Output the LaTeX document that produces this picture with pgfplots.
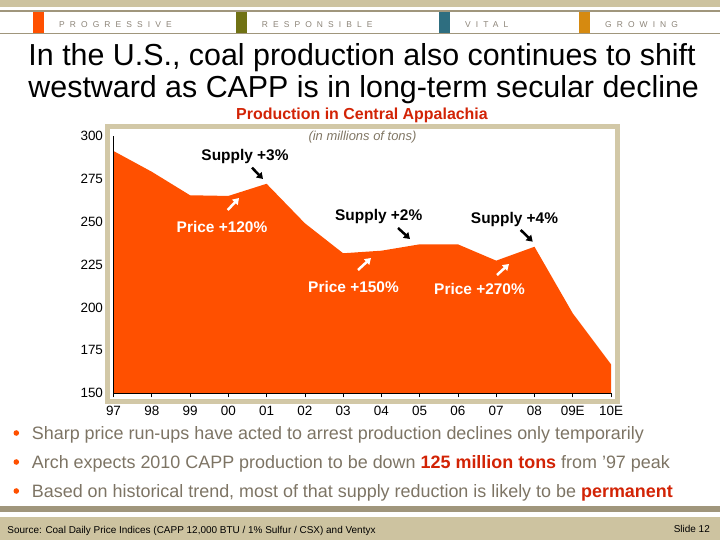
\documentclass[border=0pt]{standalone}
\usepackage{pgfplots}
\pgfplotsset{compat=1.18}
\usepackage{fontspec}
\setmainfont{Liberation Sans}
\newfontfamily\spacedfont[LetterSpace=60]{Liberation Sans}
\usetikzlibrary{arrows.meta}

\definecolor{bandtan}{RGB}{205,195,160}
\definecolor{frametan}{RGB}{210,200,167}
\definecolor{rulebrown}{RGB}{160,150,124}
\definecolor{fillorange}{RGB}{255,80,0}
\definecolor{boxolive}{RGB}{112,114,20}
\definecolor{boxteal}{RGB}{46,110,128}
\definecolor{boxgold}{RGB}{214,138,16}
\definecolor{bannergray}{RGB}{140,132,120}
\definecolor{bodygray}{RGB}{125,116,100}
\definecolor{subgray}{RGB}{128,118,100}
\definecolor{titlered}{RGB}{210,35,5}

\begin{document}
\begin{tikzpicture}[x=1bp,y=1bp]
\path[use as bounding box] (0,0) rectangle (720,540);

% top banner
\fill[bandtan] (0,533.3) rectangle (720,540);
\fill[rulebrown] (0,528) rectangle (720,529.7);
\fill[rulebrown] (0,506.3) rectangle (720,507.3);
\fill[fillorange] (33,507.3) rectangle (43.6,528);
\fill[boxolive] (235.5,507.3) rectangle (246.6,528);
\fill[boxteal] (439.4,507.3) rectangle (450,528);
\fill[boxgold] (579.4,507.3) rectangle (590,528);
\begin{scope}[every node/.style={anchor=base west, inner sep=0, text=bannergray, font=\spacedfont\fontsize{8.5}{10}\selectfont}]
\node at (59,512.7) {PROGRESSIVE};
\node at (261.7,512.7) {RESPONSIBLE};
\node at (465,512.7) {VITAL};
\node at (605,512.7) {GROWING};
\end{scope}

% slide title
\node[anchor=base west, inner sep=0, font=\fontsize{30.5}{36}\selectfont] at (28.3,474.3) {In the U.S., coal production also continues to shift};
\node[anchor=base west, inner sep=0, font=\fontsize{30.5}{36}\selectfont] at (28.3,442.7) {westward as CAPP is in long-term secular decline};

% chart title
\node[anchor=base, inner sep=0, text=titlered, font=\bfseries\fontsize{16}{19}\selectfont] at (362,420) {Production in Central Appalachia};

% chart frame
\draw[frametan, line width=5bp] (107.5,138.5) rectangle (617.5,413.5);

\coordinate (axorigin) at (113.5,146.7);
\begin{axis}[
  at={(axorigin)}, anchor=south west,
  scale only axis, width=497.5bp, height=257.4bp,
  xmin=0, xmax=13, ymin=150, ymax=300,
  axis x line=bottom, axis y line=left,
  axis line style={-, black, line width=0.8pt},
  axis on top,
  xtick={0,...,13},
  xticklabels={97,98,99,00,01,02,03,04,05,06,07,08,09E,10E},
  ytick={150,175,...,300},
  tick align=outside,
  major tick length=4bp,
  x tick style={black, line width=0.6pt},
  y tick style={draw=none},
  ticklabel style={font=\fontsize{13.5}{15}\selectfont},
  /pgf/number format/assume math mode=true,
  xticklabel style={yshift=-5.5bp},
  yticklabel style={xshift=-3bp},
]
\addplot[draw=none, fill=fillorange] coordinates {
 (0,150) (0,291.2) (1,279.1) (2,265.4) (3,265.0) (4,272.1) (5,249.1) (6,231.6)
 (7,233.1) (8,236.8) (9,236.8) (10,227.3) (11,235.4) (12,196.6) (13,166.9) (13,150)
};
\end{axis}

\node[anchor=base, inner sep=0, text=subgray, font=\itshape\fontsize{13}{15}\selectfont] at (362.5,399) {(in millions of tons)};

% annotations
\begin{scope}[every node/.style={anchor=base, inner sep=0, font=\bfseries\fontsize{15.5}{18}\selectfont}]
\node at (245,379) {Supply +3\%};
\node at (378.7,319.3) {Supply +2\%};
\node at (514.5,316.7) {Supply +4\%};
\node[text=white] at (222,307.3) {Price +120\%};
\node[text=white] at (353.5,247.3) {Price +150\%};
\node[text=white] at (479.5,245) {Price +270\%};
\end{scope}
\begin{scope}[line width=2.5bp, -{Triangle[length=6bp,width=7.5bp]}]
\draw[black] (252,372.3) -- (263,361);
\draw[black] (398,312) -- (410,301);
\draw[black] (520.7,310) -- (532.7,298.3);
\draw[white] (227.7,330) -- (239,342);
\draw[white] (358,270) -- (371,282);
\draw[white] (497,265) -- (509,276);
\end{scope}

% bullets
\begin{scope}[every node/.style={anchor=base west, inner sep=0, text=bodygray, font=\fontsize{18}{21}\selectfont}]
\fill[fillorange] (16.3,107) circle (2.8);
\fill[fillorange] (16.3,78) circle (2.8);
\fill[fillorange] (16.3,49) circle (2.8);
\node at (31.7,100.7) {Sharp price run-ups have acted to arrest production declines only temporarily};
\node at (31.7,71.7) {Arch expects 2010 CAPP production to be down \textcolor{titlered}{\bfseries 125 million tons} from ’97 peak};
\node at (31.7,42.7) {Based on historical trend, most of that supply reduction is likely to be \textcolor{titlered}{\bfseries permanent}};
\end{scope}

% footer
\fill[rulebrown] (0,28.3) rectangle (720,34);
\fill[bandtan] (0,0) rectangle (720,23);
\node[anchor=base west, inner sep=0, font=\fontsize{10}{12}\selectfont] at (7.3,6.7) {Source: Coal Daily Price Indices (CAPP 12,000 BTU / 1\% Sulfur / CSX) and Ventyx};
\node[anchor=base east, inner sep=0, font=\fontsize{10}{12}\selectfont] at (710,7.3) {Slide 12};
\end{tikzpicture}
\end{document}
